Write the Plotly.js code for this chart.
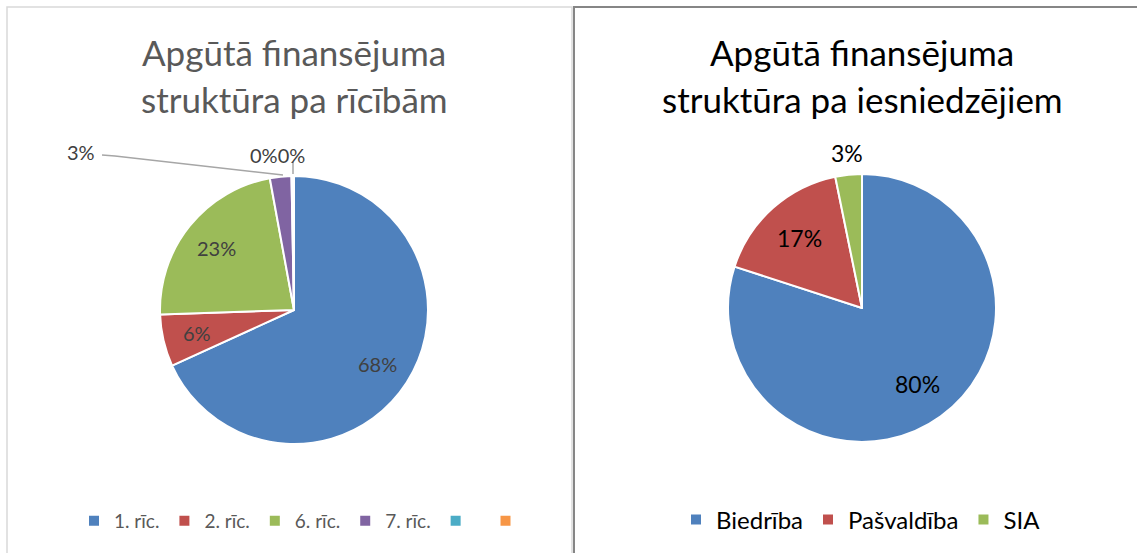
<!DOCTYPE html>
<html>
<head>
<meta charset="utf-8">
<script src="https://cdn.plot.ly/plotly-3.0.1.min.js"></script>
<style>html,body{margin:0;padding:0;background:#fff;}#chart{width:1137px;height:553px;}</style>
</head>
<body>
<div id="chart"></div>
<script>
// Left chart: by action
const actionLabels = ['1. rīc.', '2. rīc.', '6. rīc.', '7. rīc.', ' ', '  '];
const actionValues = [68.4, 6.3, 22.7, 2.6, 0.2, 0.1];
const actionColors = ['#4f81bd', '#c0504d', '#9bbb59', '#8064a2', '#4bacc6', '#f79646'];
const actionTitle = ['Apgūtā finansējuma', 'struktūra pa rīcībām'];

// Right chart: by applicant
const applicantLabels = ['Biedrība', 'Pašvaldība', 'SIA'];
const applicantValues = [80.0, 16.8, 3.2];
const applicantColors = ['#4f81bd', '#c0504d', '#9bbb59'];
const applicantTitle = ['Apgūtā finansējuma', 'struktūra pa iesniedzējiem'];

const W = 1137, H = 553;
const px = x => x / W;
const py = y => 1 - y / H;
const FONT = 'Lato, "Open Sans", sans-serif';

// pie geometry (pixels)
const LEFT = {cx: 294, cy: 310, r: 134};
const RIGHT = {cx: 862, cy: 308, r: 134};

function pct(values, i) {
  const s = values.reduce((a, b) => a + b, 0);
  return Math.round(values[i] / s * 100) + '%';
}

// inside labels placed along each slice's mid-angle (clockwise from 12 o'clock)
function insideLabels(values, geo, idx, rf, font) {
  const s = values.reduce((a, b) => a + b, 0);
  let cum = 0;
  const out = [];
  values.forEach((v, i) => {
    const mid = (cum + v / 2) / s * 2 * Math.PI;
    cum += v;
    if (!idx.includes(i)) return;
    const x = geo.cx + rf * geo.r * Math.sin(mid);
    const y = geo.cy - rf * geo.r * Math.cos(mid);
    out.push({text: pct(values, i), xref: 'paper', yref: 'paper', x: px(x), y: py(y),
      xanchor: 'center', yanchor: 'middle', showarrow: false, font: font});
  });
  return out;
}

const leftLabelFont = {family: FONT, size: 20, color: '#404040'};
const rightLabelFont = {family: FONT, size: 23, color: '#000000'};

const traces = [
  {
    type: 'pie',
    labels: actionLabels,
    values: actionValues,
    sort: false,
    direction: 'clockwise',
    rotation: 0,
    marker: {colors: actionColors, line: {color: '#ffffff', width: 2}},
    textinfo: 'none',
    domain: {x: [px(LEFT.cx - LEFT.r), px(LEFT.cx + LEFT.r)], y: [py(LEFT.cy + LEFT.r), py(LEFT.cy - LEFT.r)]},
    legend: 'legend',
    hoverinfo: 'label+percent'
  },
  {
    type: 'pie',
    labels: applicantLabels,
    values: applicantValues,
    sort: false,
    direction: 'clockwise',
    rotation: 0,
    marker: {colors: applicantColors, line: {color: '#ffffff', width: 2}},
    textinfo: 'none',
    domain: {x: [px(RIGHT.cx - RIGHT.r), px(RIGHT.cx + RIGHT.r)], y: [py(RIGHT.cy + RIGHT.r), py(RIGHT.cy - RIGHT.r)]},
    legend: 'legend2',
    hoverinfo: 'label+percent'
  }
];

const titleFont = c => ({family: FONT, size: 35, color: c});

const annotations = [
  {text: actionTitle[0], xref: 'paper', yref: 'paper', x: px(294), y: py(52), xanchor: 'center', yanchor: 'middle',
   showarrow: false, font: titleFont('#595959')},
  {text: actionTitle[1], xref: 'paper', yref: 'paper', x: px(294), y: py(99), xanchor: 'center', yanchor: 'middle',
   showarrow: false, font: titleFont('#595959')},
  {text: applicantTitle[0], xref: 'paper', yref: 'paper', x: px(862), y: py(52), xanchor: 'center', yanchor: 'middle',
   showarrow: false, font: titleFont('#000000')},
  {text: applicantTitle[1], xref: 'paper', yref: 'paper', x: px(862), y: py(99), xanchor: 'center', yanchor: 'middle',
   showarrow: false, font: titleFont('#000000')},
  // outside labels of the small slices
  {text: pct(actionValues, 3), xref: 'paper', yref: 'paper', x: px(97), y: py(152), xanchor: 'right', yanchor: 'middle',
   showarrow: false, font: leftLabelFont},
  {text: pct(actionValues, 4) + pct(actionValues, 5), xref: 'paper', yref: 'paper', x: px(277), y: py(155), xanchor: 'center', yanchor: 'middle',
   showarrow: false, font: leftLabelFont},
  {text: pct(applicantValues, 2), xref: 'paper', yref: 'paper', x: px(847), y: py(153), xanchor: 'center', yanchor: 'middle',
   showarrow: false, font: rightLabelFont}
].concat(
  insideLabels(actionValues, LEFT, [0, 1, 2], 0.74, leftLabelFont),
  insideLabels(applicantValues, RIGHT, [0, 1], 0.70, rightLabelFont)
);

const layout = {
  width: W, height: H,
  margin: {l: 0, r: 0, t: 0, b: 0},
  paper_bgcolor: '#ffffff',
  font: {family: FONT},
  showlegend: true,
  legend: {
    orientation: 'h', x: px(74), xanchor: 'left', y: py(521), yanchor: 'middle',
    font: {family: FONT, size: 19, color: '#595959'}, bgcolor: 'rgba(0,0,0,0)'
  },
  legend2: {
    orientation: 'h', x: px(676), xanchor: 'left', y: py(520), yanchor: 'middle',
    font: {family: FONT, size: 24, color: '#000000'}, bgcolor: 'rgba(0,0,0,0)'
  },
  shapes: [
    {type: 'rect', xref: 'paper', yref: 'paper', x0: px(7), x1: px(572), y0: py(7), y1: py(600),
     line: {color: '#d9d9d9', width: 1.5}},
    {type: 'rect', xref: 'paper', yref: 'paper', x0: px(574), x1: px(1145), y0: py(7), y1: py(600),
     line: {color: '#868686', width: 2}},
    // leader lines
    {type: 'path', xref: 'paper', yref: 'paper',
     path: 'M' + px(102) + ',' + py(155) + ' L' + px(115) + ',' + py(156) + ' L' + px(283) + ',' + py(175),
     line: {color: '#a6a6a6', width: 1.5}},
    {type: 'line', xref: 'paper', yref: 'paper', x0: px(293), x1: px(293), y0: py(162), y1: py(174),
     line: {color: '#a6a6a6', width: 1.5}}
  ],
  annotations: annotations
};

Plotly.newPlot('chart', traces, layout, {displayModeBar: false, staticPlot: true});
</script>
</body>
</html>
